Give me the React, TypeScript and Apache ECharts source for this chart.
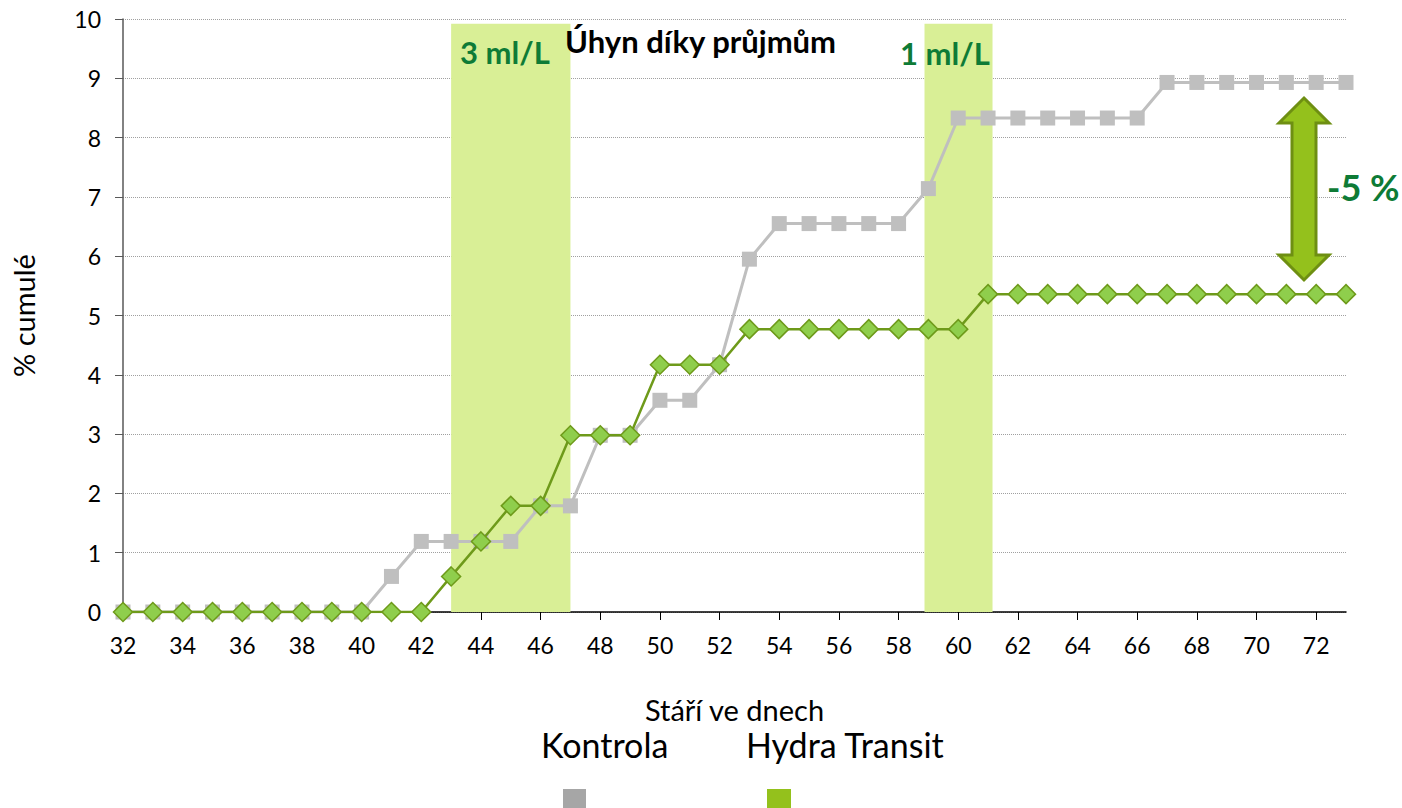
import React, { useEffect, useRef } from "react";
import * as echarts from "echarts";

const days = [32,33,34,35,36,37,38,39,40,41,42,43,44,45,46,47,48,49,50,51,52,53,54,55,56,57,58,59,60,61,62,63,64,65,66,67,68,69,70,71,72,73];
const kontrola = [0,0,0,0,0,0,0,0,0,0.6,1.19,1.19,1.19,1.19,1.79,1.79,2.98,2.98,3.57,3.57,4.17,5.95,6.55,6.55,6.55,6.55,6.55,7.14,8.33,8.33,8.33,8.33,8.33,8.33,8.33,8.93,8.93,8.93,8.93,8.93,8.93,8.93];
const hydra = [0,0,0,0,0,0,0,0,0,0,0,0.6,1.19,1.79,1.79,2.98,2.98,2.98,4.17,4.17,4.17,4.77,4.77,4.77,4.77,4.77,4.77,4.77,4.77,5.36,5.36,5.36,5.36,5.36,5.36,5.36,5.36,5.36,5.36,5.36,5.36,5.36];
const xTicks = [32,34,36,38,40,42,44,46,48,50,52,54,56,58,60,62,64,66,68,70,72];
const bands = [[43, 47], [58.87, 61.15]];
const bandTop = 9.92;

const FONT = "Lato, 'Open Sans', sans-serif";

export default function App() {
  const ref = useRef<HTMLDivElement>(null);
  useEffect(() => {
    document.body.style.margin = "0";
    const chart = echarts.init(ref.current!, null, { renderer: "svg" });
    const pair = (xs: number[], ys: number[]) => xs.map((x, i) => [x, ys[i]]);
    chart.setOption({
      animation: false,
      textStyle: { fontFamily: FONT },
      grid: { left: 123, right: 56, top: 19, bottom: 196 },
      xAxis: {
        type: "value",
        min: 32,
        max: 73,
        interval: 1,
        name: "Stáří ve dnech",
        nameLocation: "middle",
        nameGap: 83,
        nameTextStyle: { fontSize: 29, color: "#000", fontFamily: FONT },
        axisLine: { lineStyle: { color: "#000", width: 1.5 } },
        axisTick: { customValues: xTicks, length: 8, lineStyle: { color: "#000" } },
        axisLabel: { customValues: xTicks, fontSize: 23, color: "#000", margin: 21, fontFamily: FONT },
        splitLine: { show: false },
      },
      yAxis: {
        type: "value",
        min: 0,
        max: 10,
        interval: 1,
        name: "% cumulé",
        nameLocation: "middle",
        nameGap: 85,
        nameTextStyle: { fontSize: 29, color: "#000", fontFamily: FONT },
        axisLine: { show: true, lineStyle: { color: "#595959", width: 1.5 } },
        axisTick: { show: true, length: 8, lineStyle: { color: "#595959" } },
        axisLabel: { fontSize: 23, color: "#000", margin: 22, fontFamily: FONT },
        splitLine: { lineStyle: { color: "#a0a0a0", type: "dotted", width: 1 } },
      },
      series: [
        {
          name: "Kontrola",
          type: "line",
          data: pair(days, kontrola),
          symbol: "rect",
          symbolSize: 15,
          lineStyle: { color: "#bfbfbf", width: 3 },
          itemStyle: { color: "#bfbfbf" },
          z: 3,
          markArea: {
            silent: true,
            itemStyle: { color: "#d9ef96" },
            data: bands.map((b) => [
              { xAxis: b[0], yAxis: 0 },
              { xAxis: b[1], yAxis: bandTop },
            ]),
          },
        },
        {
          name: "Hydra Transit",
          type: "line",
          data: pair(days, hydra),
          symbol: "diamond",
          symbolSize: 19,
          lineStyle: { color: "#6e9a1a", width: 2.5 },
          itemStyle: { color: "#8fce4c", borderColor: "#6e9a1a", borderWidth: 1.5 },
          z: 4,
        },
      ],
      graphic: [
        {
          type: "text",
          left: 565,
          top: 25,
          z: 100,
          style: { text: "Úhyn díky průjmům", font: `bold 31px ${FONT}`, fill: "#000" },
        },
        {
          type: "text",
          left: 460,
          top: 36,
          z: 100,
          style: { text: "3 ml/L", font: `bold 31px ${FONT}`, fill: "#0e7b36" },
        },
        {
          type: "text",
          left: 900,
          top: 37,
          z: 100,
          style: { text: "1 ml/L", font: `bold 31px ${FONT}`, fill: "#0e7b36" },
        },
        {
          type: "text",
          left: 1327,
          top: 169,
          z: 100,
          style: { text: "-5 %", font: `bold 36px ${FONT}`, fill: "#0e7b36" },
        },
        {
          type: "polygon",
          z: 100,
          shape: {
            points: [
              [1304, 98], [1329, 123], [1316, 123], [1316, 255], [1329, 255],
              [1304, 280], [1279, 255], [1292, 255], [1292, 123], [1279, 123],
            ],
          },
          style: { fill: "#94c11c", stroke: "#6e8f12", lineWidth: 3, lineJoin: "miter" },
        },
        {
          type: "text",
          left: 541,
          top: 727,
          z: 100,
          style: { text: "Kontrola", font: `34px ${FONT}`, fill: "#000" },
        },
        {
          type: "text",
          left: 746,
          top: 727,
          z: 100,
          style: { text: "Hydra Transit", font: `34px ${FONT}`, fill: "#000" },
        },
        { type: "rect", z: 100, shape: { x: 563, y: 789, width: 23, height: 23 }, style: { fill: "#a6a6a6" } },
        { type: "rect", z: 100, shape: { x: 767, y: 789, width: 24, height: 23 }, style: { fill: "#94c11c" } },
      ],
    });
    return () => chart.dispose();
  }, []);
  return <div ref={ref} style={{ width: 1402, height: 808, position: "absolute", left: 0, top: 0 }} />;
}
